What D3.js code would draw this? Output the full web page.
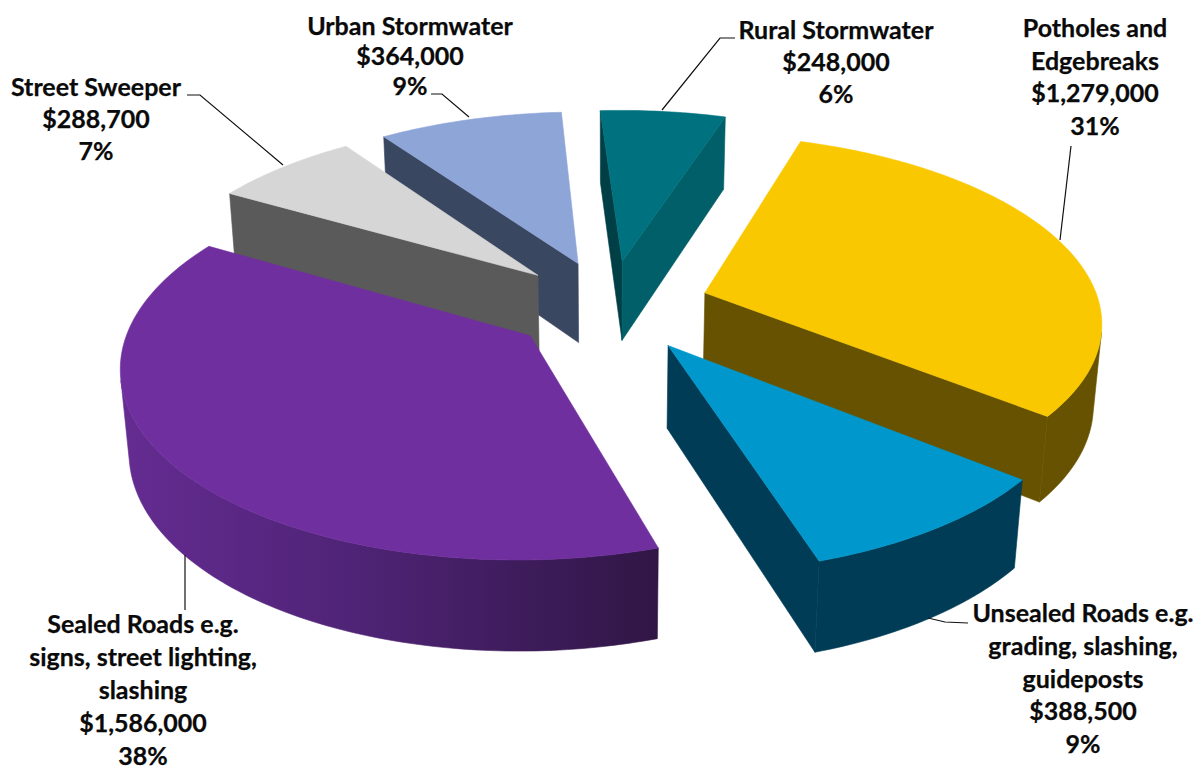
<!DOCTYPE html>
<html><head><meta charset="utf-8">
<script src="https://cdn.jsdelivr.net/npm/d3@7"></script>
<style>html,body{margin:0;padding:0;background:#fff;overflow:hidden}text{font-family:Lato,"Open Sans",sans-serif;font-weight:700;fill:#0a0a0a;stroke:#0a0a0a;stroke-width:0.25px}</style>
</head><body><div id="chart"></div>
<script>
const categories=[["Potholes and","Edgebreaks"],["Unsealed Roads e.g.","grading, slashing,","guideposts"],["Sealed Roads e.g.","signs, street lighting,","slashing"],["Street Sweeper"],["Urban Stormwater"],["Rural Stormwater"]];
const values=[1279000,388500,1586000,288700,364000,248000];
const topColors=["#fac800","#0098cc","#702f9f","#d6d6d6","#8ea5d8","#00727f"];
const wallColors=["#665200","#003c56","url(#purpleWall)","#5a5a5a","#3a4760","#005f68"];
const startWallColors=["#665200","#003c56","#331749","#5a5a5a","#3a4760","#003f46"];
const labelCentres=[[1095,29],[1083,614],[143,625],[96,88],[410,27],[836,31]];
const lineGaps=[32.7,32.8,33,32,30,32];
const leaders=[[[1071,146],[1060,240]],[[968,623],[945,622],[928,618]],[[185,610],[185,555]],[[187,95],[200,95],[283,165]],[[431,94],[442,94],[469,117]],[[735,38],[720,38],[662,110]]];

const W=1203,H=769;
const cx=610,cy=306,R=395,explode=100,tilt=Math.asin(0.465),D=2500,depth=93;
const start=18*Math.PI/180;
const sinT=Math.sin(tilt),cosT=Math.cos(tilt);
function project(u,v,h){const d=v*cosT+h*sinT,s=D/(D-d);return [cx+u*s,cy+(v*sinT-h*cosT)*s];}
const total=d3.sum(values);
const svg=d3.select("#chart").append("svg").attr("width",W).attr("height",H).style("display","block");
const grad=svg.append("defs").append("linearGradient").attr("id","purpleWall").attr("gradientUnits","userSpaceOnUse")
  .attr("x1",118).attr("x2",660).attr("y1",0).attr("y2",0);
grad.append("stop").attr("offset",0).attr("stop-color","#652c92");
grad.append("stop").attr("offset",0.45).attr("stop-color","#4e2375");
grad.append("stop").attr("offset",1).attr("stop-color","#301645");
const arcs=d3.pie().sort(null).startAngle(start).endAngle(start+2*Math.PI).value(d=>d)(values);
const line=d3.line();
const signed=p=>d3.polygonArea(p);
const slices=arcs.map((a,i)=>{const mid=(a.startAngle+a.endAngle)/2;return {a,i,mid,ou:explode*Math.sin(mid),ov:-explode*Math.cos(mid)};}).sort((p,q)=>p.ov-q.ov);
slices.forEach(sl=>{
  const {a,i,ou,ov}=sl;
  const g=svg.append("g");
  const n=Math.max(8,Math.ceil((a.endAngle-a.startAngle)*60));
  const angs=d3.range(n+1).map(k=>a.startAngle+(a.endAngle-a.startAngle)*k/n);
  const rim=(t,h)=>project(ou+R*Math.sin(t),ov-R*Math.cos(t),h);
  const apexT=project(ou,ov,0),apexB=project(ou,ov,-depth);
  const face=(pts,fill)=>g.append("path").attr("d",line(pts)+"Z").attr("fill",fill).attr("stroke",fill).attr("stroke-width",0.6);
  const w1=[apexT,rim(a.startAngle,0),rim(a.startAngle,-depth),apexB];
  if(signed(w1)>0) face(w1,startWallColors[i]);
  const w2=[rim(a.endAngle,0),apexT,apexB,rim(a.endAngle,-depth)];
  if(signed(w2)>0) face(w2,startWallColors[i]===wallColors[i]?wallColors[i]:"#005f68");
  // outer wall: one polygon over the facing run of the rim
  const facing=d3.range(n).filter(k=>signed([rim(angs[k],0),rim(angs[k+1],0),rim(angs[k+1],-depth),rim(angs[k],-depth)])>=0);
  if(facing.length){
    const run=d3.range(facing[0],facing[facing.length-1]+2).map(k=>angs[k]);
    face([...run.map(t=>rim(t,0)),...run.slice().reverse().map(t=>rim(t,-depth))],wallColors[i]);
  }
  face([apexT,...angs.map(t=>rim(t,0))],topColors[i]);
});
svg.append("g").selectAll("path").data(leaders).join("path")
  .attr("d",d=>line(d)).attr("fill","none").attr("stroke","#111").attr("stroke-width",1.2);
const fs=25;
const usd=d3.format("$,"),pct=d3.format(".0%");
categories.forEach((name,i)=>{
  const lines=[...name,usd(values[i]),pct(values[i]/total)];
  svg.append("g").selectAll("text").data(lines).join("text")
    .attr("x",labelCentres[i][0])
    .attr("y",(d,k)=>labelCentres[i][1]+k*lineGaps[i]+8)
    .attr("text-anchor","middle").attr("font-size",fs).text(d=>d);
});
</script></body></html>
